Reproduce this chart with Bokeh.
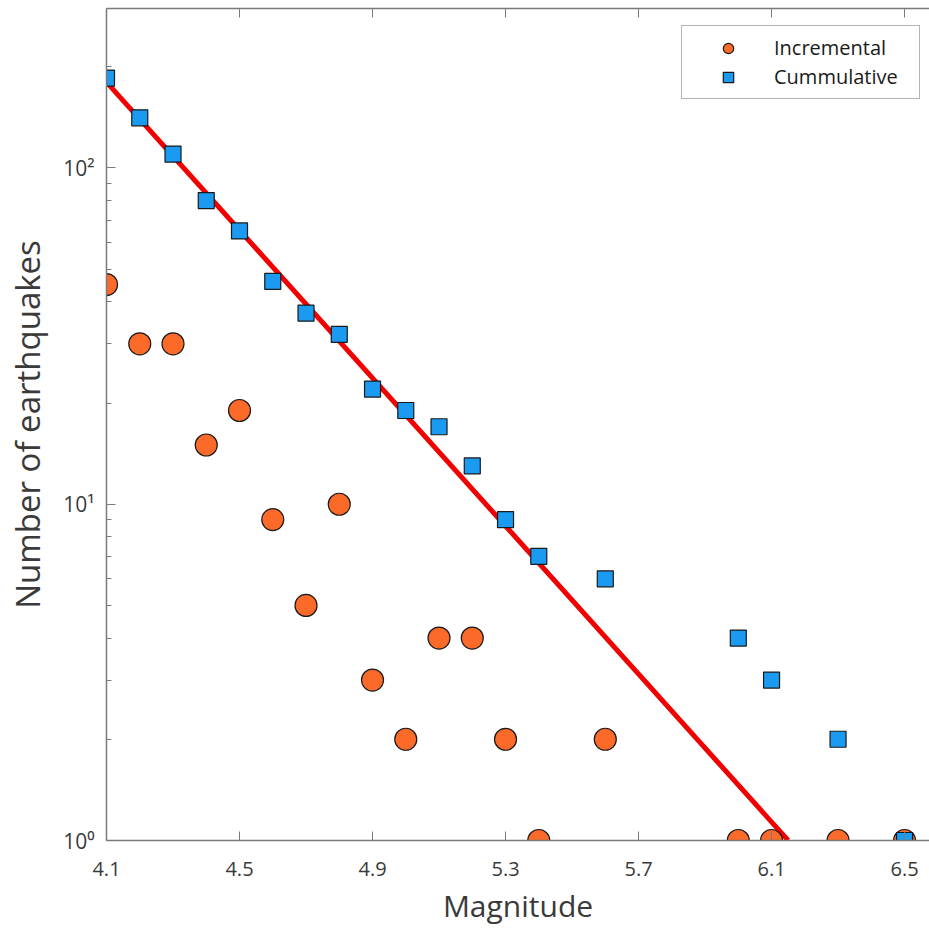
from bokeh.plotting import figure
from bokeh.models import (FixedTicker, LinearAxis, Legend, LegendItem, Range1d)
from bokeh.embed import file_html
from bokeh.resources import INLINE

# ---- data ----
inc_mag = [4.1, 4.2, 4.3, 4.4, 4.5, 4.6, 4.7, 4.8, 4.9, 5.0, 5.1, 5.2, 5.3, 5.4, 5.6, 6.0, 6.1, 6.3, 6.5]
inc_count = [45, 30, 30, 15, 19, 9, 5, 10, 3, 2, 4, 4, 2, 1, 2, 1, 1, 1, 1]
cum_mag = [4.1, 4.2, 4.3, 4.4, 4.5, 4.6, 4.7, 4.8, 4.9, 5.0, 5.1, 5.2, 5.3, 5.4, 5.6, 6.0, 6.1, 6.3, 6.5]
cum_count = [185, 141, 110, 80, 65, 46, 37, 32, 22, 19, 17, 13, 9, 7, 6, 4, 3, 2, 1]
fit_mag = [4.1, 6.15]
fit_count = [180, 1]
x_ticks = [4.1, 4.5, 4.9, 5.3, 5.7, 6.1, 6.5]
y_ticks = [1, 10, 100]
y_tick_labels = ["10⁰", "10¹", "10²"]
y_minor = [2, 3, 4, 5, 6, 7, 8, 9, 20, 30, 40, 50, 60, 70, 80, 90, 200, 300]

FONT = "Open Sans"
AX = "#7a7a7a"
TXT = "#3a3a3a"

p = figure(width=929, height=928, y_axis_type="log",
           x_range=Range1d(4.1, 6.575), y_range=Range1d(1, 298),
           output_backend="svg", toolbar_location=None,
           min_border_left=106, min_border_right=0, min_border_top=8, min_border_bottom=88)
p.outline_line_color = None
p.grid.visible = False
p.background_fill_color = "white"
p.border_fill_color = "white"

fit = p.line(fit_mag, fit_count, line_color="#f00000", line_width=5)
inc = p.scatter(inc_mag, inc_count, marker="circle", size=22,
                fill_color="#fc6a2a", line_color="#1a1a1a", line_width=1.2)
cum = p.scatter(cum_mag, cum_count, marker="square", size=16,
                fill_color="#1a9af0", line_color="#1a1a1a", line_width=1.2)

bottom = p.xaxis[0]
ya = p.yaxis[0]
top = LinearAxis(major_label_text_font_size="0px", major_label_standoff=0)
p.add_layout(top, "above")

for ax in [bottom, top, ya]:
    ax.axis_line_color = AX
    ax.axis_line_width = 1.5
    ax.major_tick_line_color = AX
    ax.minor_tick_line_color = AX
    ax.major_tick_in = 9
    ax.major_tick_out = 0
    ax.minor_tick_in = 5
    ax.minor_tick_out = 0
    ax.major_label_text_font = FONT
    ax.major_label_text_color = TXT
    ax.axis_label_text_font = FONT
    ax.axis_label_text_font_style = "normal"
    ax.axis_label_text_color = TXT
    ax.axis_label_text_font_size = "30px"

for ax in [bottom, top]:
    ax.ticker = FixedTicker(ticks=x_ticks)
    ax.minor_tick_line_color = None

top.major_label_text_font_size = "0px"
top.major_label_text_alpha = 0

bottom.major_label_text_font_size = "20px"
bottom.axis_label = "Magnitude"
bottom.major_label_standoff = 21
bottom.axis_label_standoff = 6

ya.ticker = FixedTicker(ticks=y_ticks, minor_ticks=y_minor)
ya.major_label_overrides = {t: l for t, l in zip(y_ticks, y_tick_labels)}
ya.major_label_text_font_size = "21px"
ya.axis_label = "Number of earthquakes"
ya.axis_label_text_font_size = "33px"
ya.major_label_standoff = 12
ya.axis_label_standoff = 10

legend = Legend(items=[LegendItem(label="Incremental", renderers=[inc]),
                       LegendItem(label="Cummulative", renderers=[cum])],
                location=(575, 741))
legend.border_line_color = "#6a6a6a"
legend.border_line_width = 1.2
legend.label_text_font = FONT
legend.label_text_font_size = "20px"
legend.label_text_color = "#1a1a1a"
legend.glyph_height = 26
legend.glyph_width = 76
legend.label_height = 26
legend.label_width = 137
legend.spacing = 2
legend.padding = 8
legend.margin = 0
legend.label_standoff = 8
legend.background_fill_alpha = 1
p.add_layout(legend, "center")

open("out.html", "w").write(file_html(p, INLINE))
